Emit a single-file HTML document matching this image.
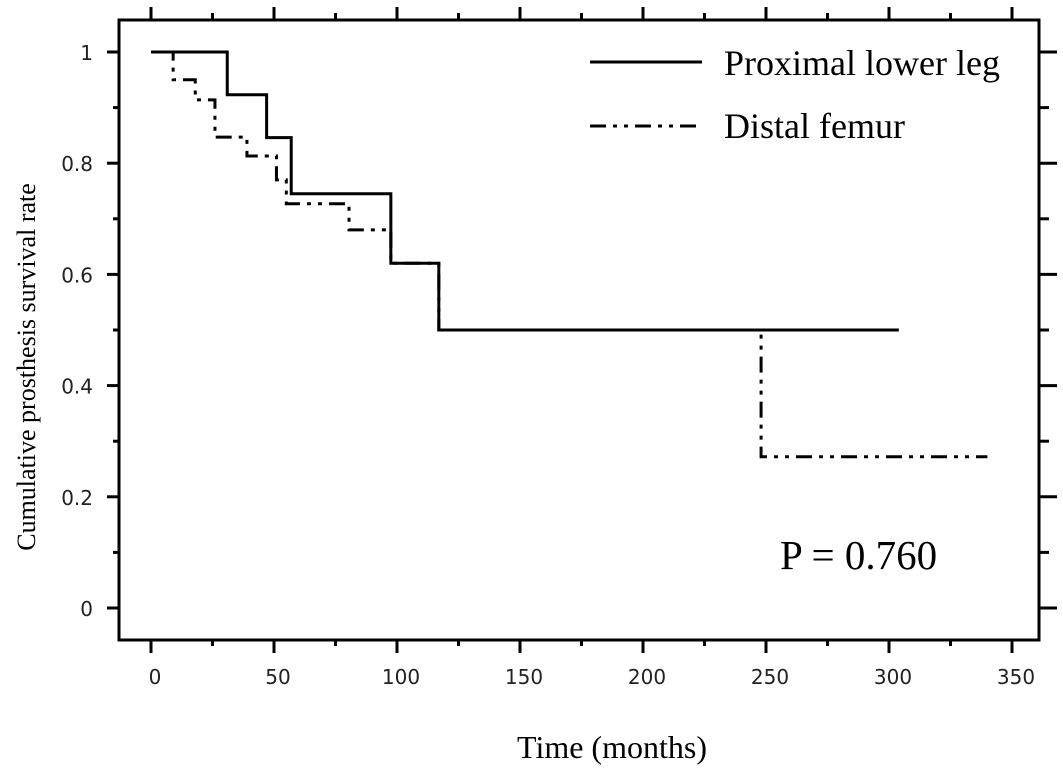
<!DOCTYPE html>
<html><head><meta charset="utf-8"><style>
body{margin:0;background:#fff;}
svg{display:block;}
.tk{font-family:"DejaVu Sans","Liberation Sans",sans-serif;font-size:20px;fill:#222;}
.sf{font-family:"Liberation Serif",serif;fill:#000;}
</style></head><body>
<svg id="chart" width="1063" height="768">
<g id="axes"></g>
<g id="series"></g>
<g>
<line x1="590" y1="62" x2="702" y2="62" stroke="#000" stroke-width="3"/>
<text x="724" y="75" class="sf" font-size="36">Proximal lower leg</text>
<line x1="590" y1="126" x2="702" y2="126" stroke="#000" stroke-width="3" stroke-dasharray="16,7,4,7,4,7"/>
<text x="724" y="138" class="sf" font-size="36">Distal femur</text>
</g>
<text x="780" y="569" class="sf" font-size="41">P = 0.760</text>
<text x="0" y="0" class="sf" font-size="26" text-anchor="middle" transform="translate(35,367) rotate(-90)">Cumulative  prosthesis survival rate</text>
<text x="612" y="758" class="sf" font-size="32" text-anchor="middle">Time (months)</text>
</svg>
<script>
const xTicks=[0,50,100,150,200,250,300,350];
const yTicks=[0,0.2,0.4,0.6,0.8,1];
const yTickLabels=["0","0.2","0.4","0.6","0.8","1"];
const proxTimes=[0,31,47,57,97.5,117,304];
const proxSurv=[1,0.923,0.846,0.745,0.62,0.5,0.5];
const distTimes=[6,9,18,26,39,51,55,80.5,97.5,117,248,340];
const distSurv=[1,0.95,0.914,0.847,0.813,0.77,0.727,0.68,0.62,0.5,0.272,0.272];
const X=v=>151+2.46*v, Y=v=>608-556*v;
const NS="http://www.w3.org/2000/svg";
function mk(t,a,p){const e=document.createElementNS(NS,t);for(const k in a)e.setAttribute(k,a[k]);p.appendChild(e);return e;}
const ax=document.getElementById('axes');
const fr=mk('rect',{x:119,y:20,width:920,height:620,fill:'none',stroke:'#000','stroke-width':3},ax);


for(let v=0;v<=350;v+=25){const major=v%50===0;const x=X(v);
 const t1=mk('line',{x1:x,y1:640,x2:x,y2:major?653:646,stroke:'#000','stroke-width':3},ax);
 
 
 const t2=mk('line',{x1:x,y1:20,x2:x,y2:major?7:13,stroke:'#000','stroke-width':3},ax);
 
 }
xTicks.forEach(v=>{const t=mk('text',{x:X(v)+4,y:684,'text-anchor':'middle',class:'tk'},ax);t.textContent=v;
 
 });
for(let v=0;v<=1.0001;v+=0.1){const major=Math.round(v*10)%2===0;const y=Y(v);
 const t1=mk('line',{x1:119,y1:y,x2:major?107:113,y2:y,stroke:'#000','stroke-width':3},ax);
 
 
 const t2=mk('line',{x1:1039,y1:y,x2:major?1057:1049,y2:y,stroke:'#000','stroke-width':3},ax);
 
 }
yTicks.forEach((v,i)=>{const t=mk('text',{x:93,y:Y(v)+8,'text-anchor':'end',class:'tk'},ax);t.textContent=yTickLabels[i];
 
 });
function stepPath(ts,ss){let d='M'+X(ts[0])+','+Y(ss[0]);for(let i=1;i<ts.length;i++){d+=' H'+X(ts[i])+' V'+Y(ss[i]);}return d;}
const sg=document.getElementById('series');
const p1=mk('path',{d:stepPath(proxTimes,proxSurv),fill:'none',stroke:'#000','stroke-width':3},sg);


const p2=mk('path',{d:stepPath(distTimes,distSurv),fill:'none',stroke:'#000','stroke-width':3,'stroke-dasharray':'16,7,4,7,4,7'},sg);


</script>
</body></html>
